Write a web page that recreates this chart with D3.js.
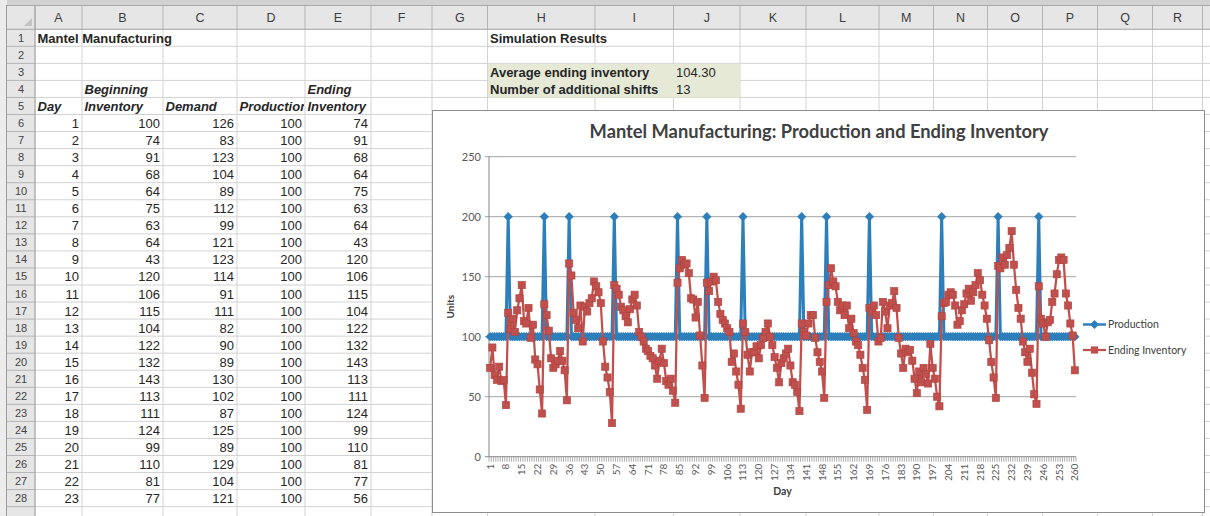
<!DOCTYPE html>
<html><head><meta charset="utf-8">
<script src="https://cdn.jsdelivr.net/npm/d3@7"></script>
<style>body{margin:0;background:#fff}svg{display:block}</style>
</head><body><svg id="c" width="1210" height="516"></svg>
<script>
// ---------------- DATA ----------------
const days = d3.range(1, 261);
const production = [
100,100,100,100,100,100,100,100,200,100,100,100,100,100,100,100,100,100,100,100,
100,100,100,100,200,100,100,100,100,100,100,100,100,100,100,200,100,100,100,100,
100,100,100,100,100,100,100,100,100,100,100,100,100,100,100,200,100,100,100,100,
100,100,100,100,100,100,100,100,100,100,100,100,100,100,100,100,100,100,100,100,
100,100,100,200,100,100,100,100,100,100,100,100,100,100,100,100,200,100,100,100,
100,100,100,100,100,100,100,100,100,100,100,100,200,100,100,100,100,100,100,100,
100,100,100,100,100,100,100,100,100,100,100,100,100,100,100,100,100,100,200,100,
100,100,100,100,100,100,100,100,100,200,100,100,100,100,100,100,100,100,100,100,
100,100,100,100,100,100,100,100,200,100,100,100,100,100,100,100,100,100,100,100,
100,100,100,100,100,100,100,100,100,100,100,100,100,100,100,100,100,100,100,100,
200,100,100,100,100,100,100,100,100,100,100,100,100,100,100,100,100,100,100,100,
100,100,100,100,100,200,100,100,100,100,100,100,100,100,100,100,100,100,100,100,
100,100,100,200,100,100,100,100,100,100,100,100,100,100,100,100,100,100,100,100];
const endingInventory = [
74,91,68,64,75,63,64,43,120,106,115,104,122,132,143,113,111,124,99,110,81,77,56,36,
127,118,105,82,74,77,80,88,80,72,47,
161,151,120,114,107,126,96,125,121,128,
132,146,142,137,128,96,75,66,54,28,
143,140,135,125,122,117,112,123,131,135,126,104,100,96,90,88,84,82,76,65,80,90,78,63,60,65,55,45,
145,157,164,160,161,153,132,131,116,129,101,76,49,
145,138,146,150,147,129,119,114,111,107,104,79,86,71,60,40,
111,104,85,71,87,87,92,82,93,99,104,111,100,93,83,74,62,78,82,86,90,76,62,60,54,38,
111,104,101,111,118,118,99,87,79,71,49,
129,143,157,146,142,129,122,126,118,126,107,115,103,96,93,85,74,64,39,
124,121,126,118,96,99,129,121,107,126,128,138,124,
99,86,74,90,87,89,80,65,53,71,62,74,69,61,94,74,65,50,42,
117,128,129,135,137,135,126,110,113,122,127,136,140,130,137,143,153,147,135,126,115,97,79,66,49,
159,157,166,160,168,174,188,160,139,124,115,96,87,79,90,70,52,44,
142,115,111,100,112,114,129,136,152,164,166,164,136,126,111,101,72];
const tableBeginning = [100,74,91,68,64,75,63,64,43,120,106,115,104,122,132,143,113,111,124,99,110,81,77];
const tableDemand = [126,83,123,104,89,112,99,121,123,114,91,111,82,90,89,130,102,87,125,89,129,104,121];
const columnLetters = ["A","B","C","D","E","F","G","H","I","J","K","L","M","N","O","P","Q","R"];
const headerTop = ["Beginning","","","Ending"];
const headerBottom = ["Day","Inventory","Demand","Production","Inventory"];
const resultLabels = ["Average ending inventory","Number of additional shifts"];
const resultValues = ["104.30","13"];
const xTickLabels = [1,8,15,22,29,36,43,50,57,64,71,78,85,92,99,106,113,120,127,134,141,148,155,162,169,176,183,190,197,204,211,218,225,232,239,246,253,260];
const yTicks = [0,50,100,150,200,250];
const seriesNames = ["Production","Ending Inventory"];

// ---------------- SHEET ----------------
const svg = d3.select("#c");
const colEdges = [35,82,163,237,305,371,432,487.5,595,673.5,740,806,879,933.5,987.5,1042.5,1097.5,1152.5,1202.5,1260];
const rowH = 17.05, row1Top = 29.25;
const rowTop = r => row1Top + (r - 1) * rowH;
const SHEETFONT = "'Liberation Sans', Arial, sans-serif";
const TXT = "#262626";

svg.append("rect").attr("width",1210).attr("height",516).attr("fill","#fff");
svg.append("rect").attr("x",0).attr("y",0).attr("width",1210).attr("height",5).attr("fill","#d2d2d2");
svg.append("rect").attr("x",0).attr("y",0).attr("width",7).attr("height",516).attr("fill","#ececec");
svg.append("line").attr("x1",6.5).attr("x2",6.5).attr("y1",5).attr("y2",516).attr("stroke","#9a9a9a");
svg.append("rect").attr("x",7).attr("y",5).attr("width",1203).attr("height",row1Top-5).attr("fill","#e6e6e6");
svg.append("rect").attr("x",7).attr("y",row1Top).attr("width",28).attr("height",516-row1Top).attr("fill","#e6e6e6");

// cell gridlines
const grid = svg.append("g").attr("stroke","#d3d3d3").attr("stroke-width",1);
colEdges.forEach(x => grid.append("line").attr("x1",x).attr("x2",x).attr("y1",row1Top).attr("y2",516));
d3.range(1, 30).forEach(r => grid.append("line").attr("x1",35).attr("x2",1210).attr("y1",rowTop(r)+rowH).attr("y2",rowTop(r)+rowH));
// header separators
const hs = svg.append("g").attr("stroke","#b4b4b4");
colEdges.forEach(x => hs.append("line").attr("x1",x).attr("x2",x).attr("y1",5).attr("y2",row1Top));
d3.range(1, 30).forEach(r => hs.append("line").attr("x1",7).attr("x2",35).attr("y1",rowTop(r)+rowH).attr("y2",rowTop(r)+rowH));
svg.append("line").attr("x1",7).attr("x2",1210).attr("y1",row1Top).attr("y2",row1Top).attr("stroke","#a0a0a0");
svg.append("line").attr("x1",35).attr("x2",35).attr("y1",5).attr("y2",516).attr("stroke","#a0a0a0");
svg.append("line").attr("x1",7).attr("x2",1210).attr("y1",5.5).attr("y2",5.5).attr("stroke","#a8a8a8");
svg.append("path").attr("d","M32,18 L32,26 L24,26 Z").attr("fill","#c4c4c4");

// column letters & row numbers
columnLetters.forEach((c,i) => svg.append("text").attr("x",(colEdges[i]+colEdges[i+1])/2).attr("y",22)
  .attr("text-anchor","middle").attr("font-family",SHEETFONT).attr("font-size",12.5).attr("fill","#3c3c3c").text(c));
d3.range(1, 29).forEach(r => svg.append("text").attr("x",21).attr("y",rowTop(r)+12.5)
  .attr("text-anchor","middle").attr("font-family",SHEETFONT).attr("font-size",11).attr("fill","#444").text(r));

// fill for results block
svg.append("rect").attr("x",488).attr("y",rowTop(3)+0.5).attr("width",252).attr("height",2*rowH-0.5).attr("fill","#e6e9d6");

function cellText(col, row, txt, opts = {}) {
  const left = colEdges[col], right = colEdges[col+1];
  const t = svg.append("text")
    .attr("y", rowTop(row) + 13.5)
    .attr("font-family", SHEETFONT).attr("font-size", opts.size || 13)
    .attr("font-weight", opts.bold ? "bold" : "normal")
    .attr("font-style", opts.italic ? "italic" : "normal")
    .attr("fill", TXT).text(txt);
  if (opts.right) t.attr("x", right - 3).attr("text-anchor","end");
  else t.attr("x", left + 2.5);
  if (opts.clip) t.attr("clip-path", opts.clip);
  return t;
}
cellText(0,1,"Mantel Manufacturing",{bold:true});
cellText(7,1,"Simulation Results",{bold:true});
headerTop.forEach((h,i) => { if (h) cellText(i+1,4,h,{bold:true,italic:true}); });
svg.append("clipPath").attr("id","clipD5").append("rect").attr("x",colEdges[3]).attr("y",rowTop(5)).attr("width",colEdges[4]-colEdges[3]-1).attr("height",rowH);
headerBottom.forEach((h,i) => cellText(i,5,h,{bold:true,italic:true,clip: i===3 ? "url(#clipD5)" : null}));
resultLabels.forEach((l,i) => { cellText(7,3+i,l,{bold:true}); cellText(9,3+i,resultValues[i],{}); });
tableBeginning.forEach((b,i) => {
  const r = 6 + i;
  cellText(0,r,days[i],{right:true});
  cellText(1,r,b,{right:true});
  cellText(2,r,tableDemand[i],{right:true});
  cellText(3,r,production[i],{right:true});
  cellText(4,r,endingInventory[i],{right:true});
});

// ---------------- CHART ----------------
const CF = "Lato, 'Open Sans', sans-serif";
const chart = svg.append("g");
chart.append("rect").attr("x",432.5).attr("y",110.5).attr("width",772).attr("height",402)
  .attr("fill","#fff").attr("stroke","#8e8e8e");
chart.append("text").attr("x",819).attr("y",137.5).attr("text-anchor","middle")
  .attr("font-family",CF).attr("font-weight","bold").attr("font-size",18.3).attr("fill","#404040")
  .text("Mantel Manufacturing: Production and Ending Inventory");

const x = d3.scaleBand().domain(days).range([489,1076]).padding(0);
const cx = d => x(d) + x.bandwidth()/2;
const y = d3.scaleLinear().domain([0,250]).range([456.7,156.7]);

// gridlines
yTicks.forEach(t => {
  chart.append("line").attr("x1",485).attr("x2",1076).attr("y1",y(t)).attr("y2",y(t))
    .attr("stroke", t===0 ? "#868686" : "#a3a3a3").attr("stroke-width",1);
  chart.append("text").attr("x",481).attr("y",y(t)).attr("dy","0.35em").attr("text-anchor","end")
    .attr("font-family",CF).attr("font-size",11).attr("fill","#595959").text(t);
});
chart.append("line").attr("x1",489).attr("x2",489).attr("y1",y(250)).attr("y2",y(0)).attr("stroke","#868686");
// category ticks
const step = x.step();
d3.range(0, days.length + 1).forEach(i => {
  const xx = 489 + i*step;
  chart.append("line").attr("x1",xx).attr("x2",xx).attr("y1",y(0)).attr("y2",y(0)+5)
    .attr("stroke","#a6a6a6").attr("stroke-width",0.9);
});
xTickLabels.forEach(d => {
  chart.append("text").attr("transform",`translate(${cx(d)},${y(0)+7}) rotate(-90)`)
    .attr("dy","0.35em").attr("text-anchor","end")
    .attr("font-family",CF).attr("font-size",10).attr("fill","#595959").text(d);
});
chart.append("text").attr("transform","translate(454,306.7) rotate(-90)").attr("text-anchor","middle")
  .attr("font-family",CF).attr("font-weight","bold").attr("font-size",10).attr("fill","#404040").text("Units");
chart.append("text").attr("x",782.5).attr("y",495).attr("text-anchor","middle")
  .attr("font-family",CF).attr("font-weight","bold").attr("font-size",10.5).attr("fill","#404040").text("Day");

const BLUE = "#2d7fbb", RED = "#c0504d";
const prodData = days.map((d,i) => ({day:d, v:production[i]}));
const endData = days.map((d,i) => ({day:d, v:endingInventory[i]}));
const line = d3.line().x(d => cx(d.day)).y(d => y(d.v));
const diamond = "M0,-4.6L4.6,0L0,4.6L-4.6,0Z";

chart.append("path").datum(prodData).attr("d",line).attr("fill","none").attr("stroke",BLUE).attr("stroke-width",3);
chart.append("g").selectAll("path").data(prodData).join("path")
  .attr("transform", d => `translate(${cx(d.day)},${y(d.v)})`).attr("d",diamond).attr("fill",BLUE);

chart.append("path").datum(endData).attr("d",line).attr("fill","none").attr("stroke",RED).attr("stroke-width",2.25);
chart.append("g").selectAll("rect").data(endData).join("rect")
  .attr("x", d => cx(d.day)-3.6).attr("y", d => y(d.v)-3.6).attr("width",7.2).attr("height",7.2)
  .attr("fill",RED).attr("stroke","#b0403d").attr("stroke-width",0.6);

// legend
const legY = [324.5, 350];
seriesNames.forEach((n,i) => {
  const g = chart.append("g");
  g.append("line").attr("x1",1083).attr("x2",1106).attr("y1",legY[i]).attr("y2",legY[i])
    .attr("stroke", i===0 ? BLUE : RED).attr("stroke-width", i===0 ? 2.5 : 2.25);
  if (i===0) g.append("path").attr("transform",`translate(1094.5,${legY[i]})`).attr("d",diamond).attr("fill",BLUE);
  else g.append("rect").attr("x",1090.9).attr("y",legY[i]-3.6).attr("width",7.2).attr("height",7.2).attr("fill",RED);
  g.append("text").attr("x",1108).attr("y",legY[i]).attr("dy","0.35em")
    .attr("font-family",CF).attr("font-size",10.5).attr("fill","#404040").text(n);
});
</script></body></html>
